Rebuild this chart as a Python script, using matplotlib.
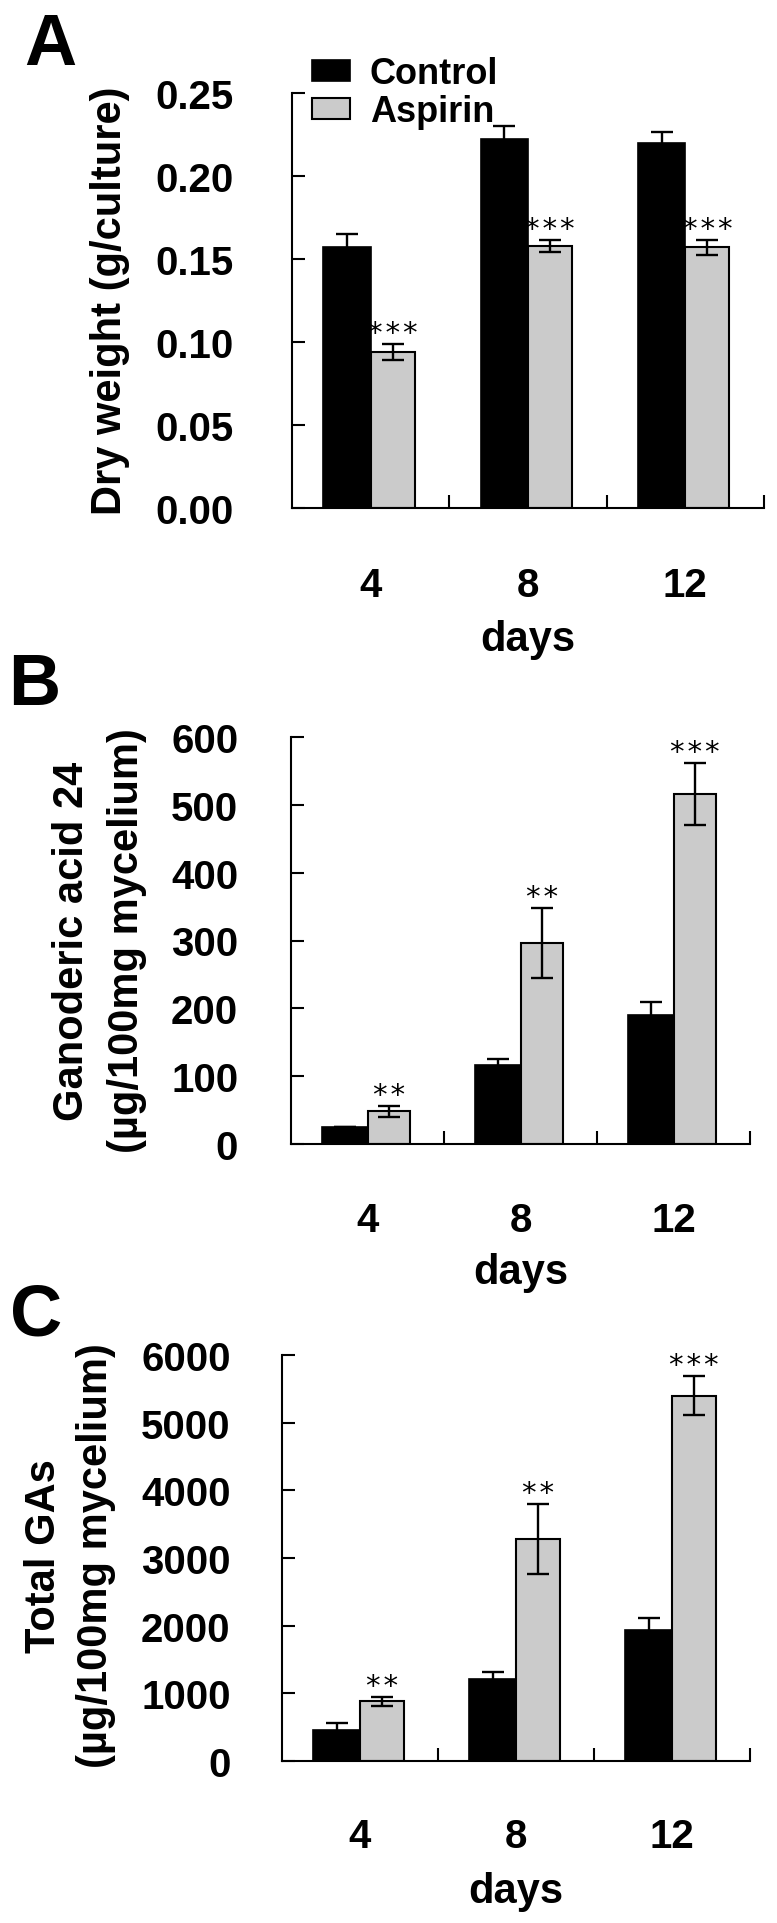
import matplotlib
matplotlib.use('Agg')
import matplotlib.pyplot as plt
import numpy as np

plt.rcParams['font.family'] = ['Liberation Sans', 'DejaVu Sans']
plt.rcParams['font.weight'] = 'bold'

# data
days = ['4', '8', '12']
series = ['Control', 'Aspirin']

dry_ctrl = [0.157, 0.222, 0.220]
dry_ctrl_err = [0.008, 0.008, 0.0065]
dry_asp = [0.094, 0.158, 0.157]
dry_asp_err = [0.005, 0.0035, 0.0045]
dry_sig = ['***', '***', '***']

ga24_ctrl = [25, 117, 190]
ga24_ctrl_err = [0, 8, 19]
ga24_asp = [48, 296, 516]
ga24_asp_err = [8.5, 52, 46]
ga24_sig = ['**', '**', '***']

total_ctrl = [452, 1212, 1932]
total_ctrl_err = [112, 100, 186]
total_asp = [880, 3276, 5400]
total_asp_err = [70, 518, 290]
total_sig = ['**', '**', '***']

W, H = 777, 1924
fig = plt.figure(figsize=(W / 100, H / 100), dpi=100)


def fx(px):
    return px / W


def fy(py):
    return 1 - py / H


def panel(box, ctrl, ctrl_err, asp, asp_err, sig, ylim, yticks, ylabels, ypad, xpad, days_y):
    left, right, top, bottom = box
    ax = fig.add_axes([fx(left), fy(bottom), fx(right - left), (bottom - top) / H])
    x = np.arange(len(days))
    b1 = ax.bar(x - 0.15, ctrl, width=0.30, color='black', edgecolor='black', linewidth=1.2, zorder=2)
    b2 = ax.bar(x + 0.14, asp, width=0.28, color='#cbcbcb', edgecolor='black', linewidth=1.5, zorder=2)
    ax.errorbar(x - 0.15, ctrl, yerr=ctrl_err, fmt='none', ecolor='black',
                elinewidth=1.7, capsize=7.8, capthick=1.7, zorder=3)
    ax.errorbar(x + 0.14, asp, yerr=asp_err, fmt='none', ecolor='black',
                elinewidth=1.7, capsize=7.8, capthick=1.7, zorder=3)
    # significance stars
    for xi, v, e, s in zip(x, asp, asp_err, sig):
        ax.annotate('\u200a'.join(s), xy=(xi + 0.14, v + e), xytext=(0, 2), textcoords='offset points',
                    ha='center', va='baseline', fontsize=21, fontweight='normal',
                    family='DejaVu Sans')
    ax.set_xlim(-0.5, 2.5)
    ax.set_ylim(*ylim)
    ax.set_yticks(yticks)
    ax.set_yticklabels(ylabels)
    ax.set_xticks(x)
    ax.set_xticklabels(days)
    ax.set_xticks([0.5, 1.5, 2.5], minor=True)
    ax.tick_params(axis='x', which='major', length=0, pad=xpad, labelsize=29)
    ax.tick_params(axis='x', which='minor', direction='in', length=9.5, width=1.5)
    ax.tick_params(axis='y', direction='in', length=9.5, width=1.5, pad=ypad, labelsize=29)
    for sp in ['top', 'right']:
        ax.spines[sp].set_visible(False)
    for sp in ['left', 'bottom']:
        ax.spines[sp].set_linewidth(1.5)
    fig.text(fx((left + right) / 2), fy(days_y), 'days', ha='center', va='top', fontsize=30)
    return ax, b1, b2


axA, c1, a1 = panel((292, 764, 94, 509), dry_ctrl, dry_ctrl_err, dry_asp, dry_asp_err, dry_sig,
                    (0, 0.25), [0, 0.05, 0.10, 0.15, 0.20, 0.25],
                    ['0.00', '0.05', '0.10', '0.15', '0.20', '0.25'], 42, 42, 620)
axB, _, _ = panel((291, 750, 738, 1145), ga24_ctrl, ga24_ctrl_err, ga24_asp, ga24_asp_err, ga24_sig,
                  (0, 600), [0, 100, 200, 300, 400, 500, 600],
                  ['0', '100', '200', '300', '400', '500', '600'], 38, 41, 1253)
axC, _, _ = panel((282, 750, 1356, 1762), total_ctrl, total_ctrl_err, total_asp, total_asp_err, total_sig,
                  (0, 6000), [0, 1000, 2000, 3000, 4000, 5000, 6000],
                  ['0', '1000', '2000', '3000', '4000', '5000', '6000'], 37, 40, 1872)

axA.legend([c1, a1], series, loc='upper left', bbox_to_anchor=(fx(312), fy(57)),
           bbox_transform=fig.transFigure, frameon=False, prop={'size': 26, 'weight': 'bold'},
           handlelength=1.05, handleheight=0.52, handletextpad=0.55, labelspacing=0.08,
           borderpad=0, borderaxespad=0)

# y axis titles
fig.text(fx(90), fy(301), 'Dry weight (g/culture)', rotation=90, ha='left', va='center', fontsize=30)
fig.text(fx(52), fy(941), 'Ganoderic acid 24', rotation=90, ha='left', va='center', fontsize=30)
fig.text(fx(107), fy(941), '(µg/100mg mycelium)', rotation=90, ha='left', va='center', fontsize=30)
fig.text(fx(24), fy(1556), 'Total GAs', rotation=90, ha='left', va='center', fontsize=30)
fig.text(fx(76), fy(1556), '(µg/100mg mycelium)', rotation=90, ha='left', va='center', fontsize=30)

# panel letters
fig.text(fx(24), fy(65), 'A', fontsize=52, va='baseline', ha='left')
fig.text(fx(8), fy(705), 'B', fontsize=52, va='baseline', ha='left')
fig.text(fx(10), fy(1335), 'C', fontsize=52, va='baseline', ha='left')

fig.savefig('out.png', dpi=100)
